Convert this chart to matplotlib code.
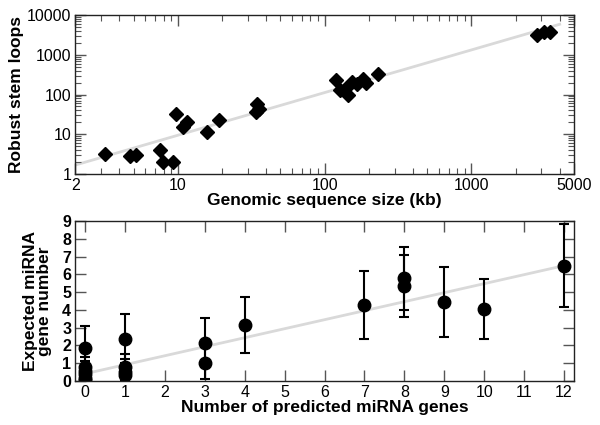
import numpy as np
import matplotlib.pyplot as plt
from matplotlib.ticker import FixedLocator, FixedFormatter, LogLocator, NullFormatter

plt.rcParams['font.family'] = ['Liberation Sans', 'DejaVu Sans']

# top panel: genomic sequence size (kb) vs robust stem loops
seq_size = [3.2, 4.7, 5.2, 7.5, 7.9, 9.2, 9.7, 10.8, 11.6, 15.9, 19.1,
            34.7, 35.8, 34.3, 119, 127, 145, 137, 153, 165, 183, 190, 232,
            2806, 3150, 3430]
stem_loops = [3.1, 2.8, 2.9, 4.1, 2.0, 2.0, 32, 15.3, 20.4, 11.4, 22.5,
              59, 44, 36.5, 239, 128, 96, 142, 207, 189, 253, 196, 324,
              3120, 3900, 3780]
# power-law fit y = a * x^b
fit_a = 0.79
fit_b = 1.076
fit_x = [2, 4000]

# bottom panel: predicted vs expected miRNA genes
predicted = [0, 0, 0, 0, 0, 0, 1, 1, 1, 1, 3, 3, 4, 7, 8, 8, 9, 10, 12]
expected = [1.83, 0.8, 0.58, 0.38, 0.18, 0.03, 2.33, 0.75, 0.5, 0.3,
            2.15, 1.0, 3.14, 4.27, 5.77, 5.34, 4.45, 4.04, 6.48]
expected_err = [1.27, 0.55, 0.55, 0.5, 0.4, 0.3, 1.43, 0.75, 0.75, 0.7,
                1.4, 0.9, 1.57, 1.9, 1.78, 1.77, 1.97, 1.67, 2.35]
lin_a = 0.4
lin_b = 0.507
lin_x = [0, 12]

fig = plt.figure(figsize=(6, 4.25), dpi=100)
ax1 = fig.add_axes([0.1255, 0.591, 0.831, 0.373])
ax2 = fig.add_axes([0.1255, 0.104, 0.831, 0.376])

line_col = '#d9d9d9'
tick_col = '#555555'

# ---- top
fx = np.array(fit_x, dtype=float)
ax1.plot(fx, fit_a * fx ** fit_b, color=line_col, lw=2, zorder=1)
ax1.plot(seq_size, stem_loops, 'D', color='black', ms=7.5, zorder=2)
ax1.set_xscale('log')
ax1.set_yscale('log')
ax1.set_xlim(2, 5000)
ax1.set_ylim(1, 10000)
ax1.xaxis.set_major_locator(FixedLocator([2, 10, 100, 1000, 5000]))
ax1.xaxis.set_major_formatter(FixedFormatter(['2', '10', '100', '1000', '5000']))
ax1.xaxis.set_minor_locator(LogLocator(base=10, subs=np.arange(2, 10), numticks=20))
ax1.xaxis.set_minor_formatter(NullFormatter())
ax1.yaxis.set_major_locator(FixedLocator([1, 10, 100, 1000, 10000]))
ax1.yaxis.set_major_formatter(FixedFormatter(['1', '10', '100', '1000', '10000']))
ax1.yaxis.set_minor_locator(LogLocator(base=10, subs=np.arange(2, 10), numticks=20))
ax1.yaxis.set_minor_formatter(NullFormatter())
ax1.set_xlabel('Genomic sequence size (kb)', fontsize=12.5, fontweight='bold', labelpad=0)
ax1.set_ylabel('Robust stem loops', fontsize=12.5, fontweight='bold', labelpad=2)

# ---- bottom
lx = np.array(lin_x, dtype=float)
ax2.plot(lx, lin_a + lin_b * lx, color=line_col, lw=2, zorder=1)
ax2.errorbar(predicted, expected, yerr=expected_err, fmt='o', color='black',
             ms=9, elinewidth=1.5, capsize=3.5, capthick=1.5, zorder=2)
ax2.set_xlim(-0.25, 12.25)
ax2.set_ylim(0, 9)
ax2.set_xticks(range(0, 13))
ax2.set_yticks(range(0, 10))
ax2.set_xlabel('Number of predicted miRNA genes', fontsize=12.5, fontweight='bold', labelpad=0)
ax2.set_ylabel('Expected miRNA\ngene number', fontsize=12.5, fontweight='bold',
               labelpad=7, linespacing=0.95)

for ax in (ax1, ax2):
    ax.tick_params(which='both', direction='in', top=True, right=True,
                   color=tick_col, labelsize=11.5, pad=3)
    ax.tick_params(which='major', length=8, width=1)
    ax.tick_params(which='minor', length=4, width=0.8)
    for s in ax.spines.values():
        s.set_linewidth(1)
        s.set_color('#222222')

for lab in ax2.get_yticklabels():
    lab.set_fontweight('bold')

fig.savefig('out.png', dpi=100)
